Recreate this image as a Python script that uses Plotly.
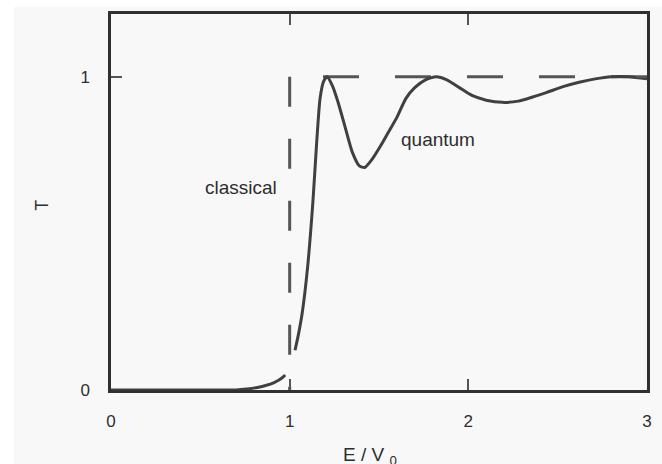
import plotly.graph_objects as go

# Transmission coefficient vs. energy for a rectangular barrier
# below-barrier branch (tunnelling tail)
tunnel_x = [0.0, 0.5, 0.7, 0.76, 0.82, 0.87, 0.91, 0.94, 0.96, 0.975]
tunnel_t = [0.0, 0.0, 0.0, 0.003, 0.008, 0.015, 0.023, 0.032, 0.040, 0.048]

# above-barrier branch with transmission resonances
above_x = [1.03, 1.05, 1.07, 1.10, 1.13, 1.15, 1.17, 1.19, 1.21, 1.24, 1.27, 1.31,
           1.35, 1.39, 1.42, 1.46, 1.51, 1.55, 1.60, 1.65, 1.70, 1.76, 1.82, 1.88,
           1.95, 2.02, 2.10, 2.19, 2.28, 2.36, 2.44, 2.53, 2.62, 2.71, 2.80, 2.90, 3.0]
above_t = [0.127, 0.18, 0.245, 0.39, 0.60, 0.78, 0.93, 0.985, 1.0, 0.97, 0.92, 0.84,
           0.76, 0.715, 0.71, 0.735, 0.78, 0.82, 0.87, 0.93, 0.965, 0.99, 1.0, 0.99,
           0.965, 0.94, 0.925, 0.918, 0.922, 0.935, 0.95, 0.968, 0.982, 0.993, 1.0, 1.0, 0.993]

# classical step: T jumps from 0 to 1 at E = V0
classical_vert_x = [1.0, 1.0]
classical_vert_t = [1.0, 0.0]
classical_horiz_x = [3.0, 1.0]
classical_horiz_t = [1.0, 1.0]

x_ticks = [0, 1, 2, 3]
x_tick_text = ["0", "1", "2", "3"]
y_ticks = [0, 1]
y_tick_text = ["0", "1"]

FONT = "Liberation Sans, Arial, sans-serif"
TEXT = "#2e2e2e"
CURVE = "#404040"
DASHED = "#555555"
BG = "#f8f8f8"

fig = go.Figure()

fig.add_trace(go.Scatter(x=classical_vert_x, y=classical_vert_t, mode="lines",
                         line=dict(color=DASHED, width=3, dash="30px,32px"),
                         hoverinfo="skip"))
fig.add_trace(go.Scatter(x=classical_horiz_x, y=classical_horiz_t, mode="lines",
                         line=dict(color=DASHED, width=3, dash="36px,36px"),
                         hoverinfo="skip"))
fig.add_trace(go.Scatter(x=tunnel_x, y=tunnel_t, mode="lines",
                         line=dict(color=CURVE, width=3, shape="spline", smoothing=0.6)))
fig.add_trace(go.Scatter(x=above_x, y=above_t, mode="lines",
                         line=dict(color=CURVE, width=3, shape="spline", smoothing=0.6)))

W, H = 662, 464
L, R, T, B = 111, 10, 14, 74
pw, ph = W - L - R, H - T - B

axis_common = dict(showgrid=False, zeroline=False, showline=True, linecolor="#303030",
                   linewidth=2.5, mirror="allticks", ticks="inside", ticklen=11,
                   tickwidth=1.5, tickcolor="#555555",
                   tickfont=dict(family=FONT, size=17, color=TEXT))

fig.update_xaxes(range=[0, 3], tickvals=x_ticks, ticktext=x_tick_text,
                 ticklabelstandoff=14, **axis_common)
fig.update_yaxes(range=[0, 1.2], tickvals=y_ticks, ticktext=y_tick_text,
                 ticklabelstandoff=15, **axis_common)

fig.update_layout(
    width=W, height=H,
    margin=dict(l=L, r=R, t=T, b=B),
    paper_bgcolor=BG, plot_bgcolor=BG,
    showlegend=False,
    font=dict(family=FONT, color=TEXT),
    annotations=[
        dict(x=0.726, y=0.647, xref="x", yref="y", text="classical", showarrow=False,
             xanchor="center", yanchor="middle", font=dict(size=19, color=TEXT)),
        dict(x=1.83, y=0.80, xref="x", yref="y", text="quantum", showarrow=False,
             xanchor="center", yanchor="middle", font=dict(size=19, color=TEXT)),
        dict(x=(372 - L) / pw, y=-(456 - (T + ph)) / ph, xref="paper", yref="paper",
             text="E / V <sub>0</sub>", showarrow=False, xanchor="center",
             yanchor="middle", font=dict(size=19, color=TEXT)),
        dict(x=(41 - L) / pw, y=1 - (205 - T) / ph, xref="paper", yref="paper",
             text="T", textangle=-90, showarrow=False, xanchor="center",
             yanchor="middle", font=dict(size=18, color=TEXT)),
    ],
    shapes=[
        dict(type="rect", xref="paper", yref="paper", layer="below",
             x0=-L / pw - 0.01, x1=(13 - L) / pw, y0=-B / ph - 0.02, y1=1 + T / ph + 0.02,
             line=dict(width=0), fillcolor="white"),
        dict(type="rect", xref="paper", yref="paper", layer="below",
             x0=-L / pw - 0.01, x1=1 + R / pw + 0.02, y0=1 + (T - 7) / ph, y1=1 + T / ph + 0.02,
             line=dict(width=0), fillcolor="white"),
    ],
)

fig.write_html("out.html")
